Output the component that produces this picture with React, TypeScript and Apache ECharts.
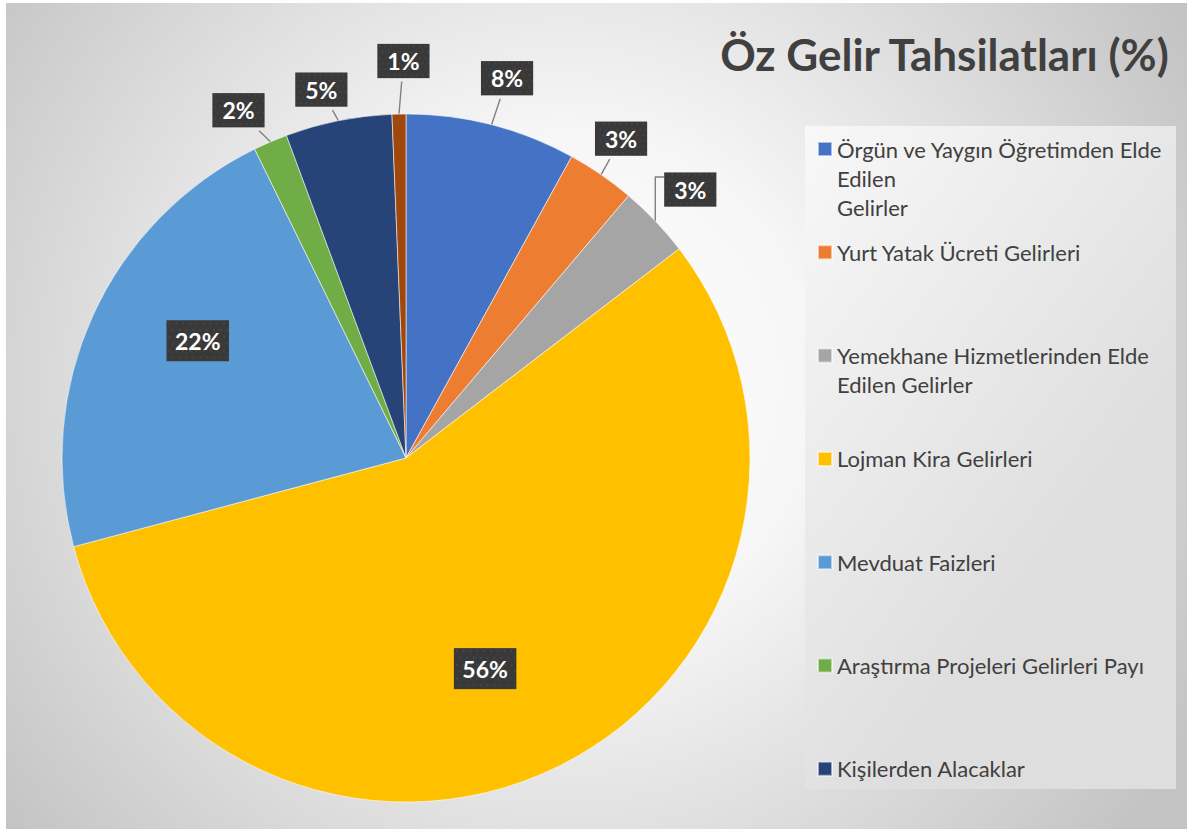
import React, { useEffect, useRef } from "react";
import * as echarts from "echarts";

// ---- data ----
const titleText = "Öz Gelir Tahsilatları (%)";
const categories = [
  "Örgün ve Yaygın Öğretimden Elde Edilen Gelirler",
  "Yurt Yatak Ücreti Gelirleri",
  "Yemekhane Hizmetlerinden Elde Edilen Gelirler",
  "Lojman Kira Gelirleri",
  "Mevduat Faizleri",
  "Araştırma Projeleri Gelirleri Payı",
  "Kişilerden Alacaklar",
  "Diğer Gelirler",
];
const legendLabels = [
  "Örgün ve Yaygın Öğretimden Elde\nEdilen\nGelirler",
  "Yurt Yatak Ücreti Gelirleri",
  "Yemekhane Hizmetlerinden Elde\nEdilen Gelirler",
  "Lojman Kira Gelirleri",
  "Mevduat Faizleri",
  "Araştırma Projeleri Gelirleri Payı",
  "Kişilerden Alacaklar",
];
const values = [8.0, 3.2, 3.4, 56.25, 21.9, 1.6, 5.0, 0.65];
const colors = ["#4472C4", "#ED7D31", "#A5A5A5", "#FFC000", "#5B9BD5", "#70AD47", "#264478", "#9E480E"];

// ---- layout constants ----
const W = 1181;
const H = 826;
const CX = 400;
const CY = 455;
const R = 344;
const LEGEND_LEFT = 811;
const LEGEND_Y0 = 146;
const LEGEND_STEP = 103.3;
const LH = 29;
const FONT = "Lato, 'Open Sans', sans-serif";
const LABEL_PLACE = [
  { rho: 393, dphi: 0.5, inside: false, elbow: false },
  { rho: 385, dphi: -0.6, inside: false, elbow: false },
  { rho: 391, dphi: 0.2, inside: false, elbow: true },
  { rho: 225, dphi: 5.6, inside: true, elbow: false },
  { rho: 239, dphi: 4.9, inside: true, elbow: false },
  { rho: 386, dphi: -2.5, inside: false, elbow: false },
  { rho: 378, dphi: -1.6, inside: false, elbow: false },
  { rho: 397, dphi: 0.8, inside: false, elbow: false },
];

function makePattern(): string {
  const c = document.createElement("canvas");
  c.width = 64;
  c.height = 42;
  const ctx = c.getContext("2d");
  if (!ctx) return "";
  ctx.fillStyle = "#393939";
  ctx.fillRect(0, 0, 64, 42);
  ctx.fillStyle = "#4b4b4b";
  let row = 0;
  for (let y = 3; y < 42; y += 7) {
    const off = row % 2 ? 3.5 : 0;
    for (let x = 3 + off; x < 64; x += 7) {
      ctx.beginPath();
      ctx.arc(x, y, 1.1, 0, Math.PI * 2);
      ctx.fill();
    }
    row++;
  }
  return c.toDataURL();
}

export default function App() {
  const ref = useRef<HTMLDivElement>(null);
  useEffect(() => {
    if (!ref.current) return;
    const chart = echarts.init(ref.current, null, { renderer: "svg" });
    const pattern = makePattern();

    const legends = legendLabels.map((lbl, i) => {
      const lines = lbl.split("\n");
      const pad = lines.length - 1;
      const total = lines.length + pad;
      const txt = "\n".repeat(pad) + lines.join("\n");
      return {
        orient: "vertical",
        left: LEGEND_LEFT,
        top: LEGEND_Y0 + i * LEGEND_STEP - (total * LH) / 2,
        padding: 0,
        selectedMode: false,
        icon: "rect",
        itemWidth: 14,
        itemHeight: 14,
        data: [categories[i]],
        formatter: () => txt,
        textStyle: { color: "#404040", fontSize: 22, fontFamily: FONT, lineHeight: LH },
      };
    });

    const option: any = {
      animation: false,
      title: {
        text: titleText,
        right: 16,
        top: 29,
        padding: 0,
        textStyle: { color: "#404040", fontSize: 44, fontWeight: "bold", fontFamily: FONT },
      },
      legend: legends,
      graphic: [
        {
          type: "rect",
          z: -100,
          silent: true,
          shape: { x: 0, y: 0, width: W, height: H },
          style: {
            fill: {
              type: "radial",
              x: 560,
              y: 380,
              r: 720,
              global: true,
              colorStops: [
                { offset: 0, color: "#ffffff" },
                { offset: 0.35, color: "#f6f6f6" },
                { offset: 1, color: "#c3c3c3" },
              ],
            },
          },
        },
        {
          type: "rect",
          z: -90,
          silent: true,
          shape: { x: 799, y: 123, width: 371, height: 663 },
          style: {
            fill: {
              type: "linear",
              x: 799,
              y: 123,
              x2: 1170,
              y2: 400,
              global: true,
              colorStops: [
                { offset: 0, color: "#f8f8f8" },
                { offset: 1, color: "#dedede" },
              ],
            },
          },
        },
      ],
      series: [
        {
          type: "pie",
          center: [CX, CY],
          radius: R,
          startAngle: 90,
          clockwise: true,
          avoidLabelOverlap: false,
          percentPrecision: 0,
          emphasis: { disabled: true },
          itemStyle: { borderColor: "rgba(255,255,255,0.55)", borderWidth: 1 },
          data: categories.map((name, i) => ({
            name,
            value: values[i],
            itemStyle: { color: colors[i] },
            label: { position: LABEL_PLACE[i].inside ? "inside" : "outside" },
            labelLine: { show: !LABEL_PLACE[i].inside },
          })),
          label: {
            show: true,
            formatter: "{d}%",
            color: "#ffffff",
            fontSize: 23,
            fontWeight: "bold",
            fontFamily: FONT,
            lineHeight: 23,
            padding: [9, 10, 9, 10],
            backgroundColor: pattern ? { image: pattern } : "#3a3a3a",
            shadowColor: "rgba(0,0,0,0.45)",
            shadowBlur: 6,
            shadowOffsetX: 3,
            shadowOffsetY: 3,
          },
          labelLine: {
            show: true,
            length: 12,
            length2: 0,
            lineStyle: { color: "#808080", width: 1.4 },
          },
          labelLayout: (p: any) => {
            const place = LABEL_PLACE[p.dataIndex];
            if (!place) return {};
            const rect = p.labelRect;
            const hw = rect.width / 2;
            const hh = rect.height / 2;
            const pts = p.labelLinePoints;
            const hasLine = !place.inside && pts && pts.length;
            const refPt = hasLine ? pts[0] : [rect.x + hw, rect.y + hh];
            const mid = Math.atan2(refPt[0] - CX, CY - refPt[1]);
            const phi = mid + (place.dphi * Math.PI) / 180;
            const bx = CX + place.rho * Math.sin(phi);
            const by = CY - place.rho * Math.cos(phi);
            const out: any = { x: bx, y: by, align: "center", verticalAlign: "middle" };
            if (hasLine) {
              const e = pts[0];
              if (place.elbow) {
                const yy = by - hh + 8;
                out.labelLinePoints = [
                  [e[0], e[1]],
                  [e[0], yy],
                  [bx - hw, yy],
                ];
              } else {
                const dx = e[0] - bx;
                const dy = e[1] - by;
                const tx = dx !== 0 ? hw / Math.abs(dx) : Infinity;
                const ty = dy !== 0 ? hh / Math.abs(dy) : Infinity;
                const t = Math.min(tx, ty);
                const end = [bx + dx * t, by + dy * t];
                out.labelLinePoints = [
                  [e[0], e[1]],
                  [(e[0] + end[0]) / 2, (e[1] + end[1]) / 2],
                  end,
                ];
              }
            }
            return out;
          },
        },
      ],
    };
    chart.setOption(option);
    return () => chart.dispose();
  }, []);
  return (
    <div
      ref={ref}
      style={{ position: "absolute", left: 6, top: 3, width: W, height: H }}
    />
  );
}
